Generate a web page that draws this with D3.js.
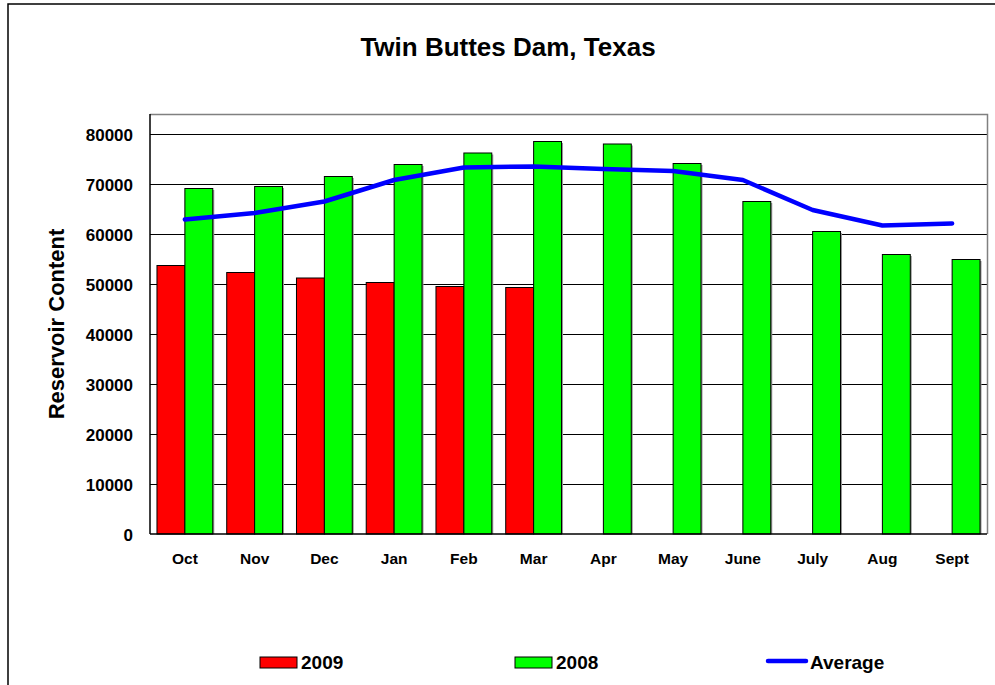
<!DOCTYPE html>
<html><head><meta charset="utf-8">
<script src="https://cdn.jsdelivr.net/npm/d3@7"></script>
<style>body{margin:0;background:#fff}svg{display:block;font-family:"Liberation Sans",Arial,sans-serif}</style>
</head><body><svg id="c" width="995" height="685"></svg>
<script>
const months = ["Oct","Nov","Dec","Jan","Feb","Mar","Apr","May","June","July","Aug","Sept"];
const values2009 = [53700,52300,51200,50300,49500,49300,null,null,null,null,null,null];
const values2008 = [69100,69500,71500,73900,76200,78500,78000,74100,66500,60500,55900,54900];
const valuesAvg = [62900,64200,66500,70800,73300,73500,73000,72600,70800,64800,61700,62100];
const yTicks = [0,10000,20000,30000,40000,50000,60000,70000,80000];
const title = "Twin Buttes Dam, Texas";
const yTitle = "Reservoir Content";

const svg = d3.select("#c");
const L=150, R=987, T=114, B=534;
svg.append("path").attr("d","M8,690 V4 H1000").attr("fill","none").attr("stroke","#000").attr("stroke-width",1.5);

const x = d3.scaleBand().domain(months).range([L,R]).paddingInner(0).paddingOuter(0);
const y = d3.scaleLinear().domain([0,84000]).range([B,T]);
const bw = x.bandwidth(), barW = bw*0.4, off = bw*0.1;

svg.append("g").selectAll("line").data(yTicks.filter(d=>d>0)).join("line")
  .attr("x1",L).attr("x2",R).attr("y1",d=>Math.round(y(d))+0.5).attr("y2",d=>Math.round(y(d))+0.5)
  .attr("stroke","#000").attr("stroke-width",1);
svg.append("path").attr("d",`M${L},${T+0.5} H${R+0.5} V${B}`).attr("fill","none").attr("stroke","#808080").attr("stroke-width",1.5);

function bars(data, dx, color){
  const g = svg.append("g");
  const d = months.map((m,i)=>({m, v:data[i]})).filter(e=>e.v!=null);
  g.selectAll("rect.sh").data(d).join("rect")
    .attr("x",e=>x(e.m)+dx+1.5).attr("y",e=>y(e.v)+1.5).attr("width",barW).attr("height",e=>B-y(e.v)-1.5)
    .attr("fill","#999");
  g.selectAll("rect.b").data(d).join("rect")
    .attr("x",e=>x(e.m)+dx).attr("y",e=>y(e.v)).attr("width",barW).attr("height",e=>B-y(e.v))
    .attr("fill",color).attr("stroke","#000").attr("stroke-width",1);
}
bars(values2009, off, "#ff0000");
bars(values2008, off+barW, "#00ff00");

const line = d3.line().x((d,i)=>x(months[i])+bw/2).y(d=>y(d)).curve(d3.curveLinear);
svg.append("path").datum(valuesAvg).attr("d",line).attr("fill","none").attr("stroke","#0000ff").attr("stroke-width",4.5).attr("stroke-linejoin","round").attr("stroke-linecap","round");

const ya = d3.axisLeft(y).tickValues(yTicks).tickSize(6).tickFormat(d3.format("d"));
const gy = svg.append("g").attr("transform",`translate(${L},0)`).call(ya);
gy.select(".domain").attr("stroke","#000").attr("stroke-width",1.5).attr("d",`M0,${T}V${B}`);
gy.selectAll(".tick line").remove();
gy.selectAll("text").attr("x",-17).attr("dy","0.36em").attr("font-size",17).attr("font-weight","bold").attr("fill","#000").attr("font-family","Liberation Sans, Arial, sans-serif");

const xa = d3.axisBottom(x).tickSize(0);
const gx = svg.append("g").attr("transform",`translate(0,${B})`).call(xa);
gx.select(".domain").attr("stroke","#000").attr("stroke-width",1.5).attr("d",`M${L},0H${R}`);
gx.selectAll("text").attr("y",19).attr("dy","0.71em").attr("font-size",15.5).attr("font-weight","bold").attr("fill","#000").attr("font-family","Liberation Sans, Arial, sans-serif");

svg.append("text").attr("x",508).attr("y",56).attr("text-anchor","middle").attr("font-size",26).attr("font-weight","bold").text(title);
svg.append("text").attr("transform","translate(64,324) rotate(-90)").attr("text-anchor","middle").attr("font-size",22).attr("font-weight","bold").text(yTitle);

const leg = svg.append("g").attr("font-size",19).attr("font-weight","bold");
leg.append("rect").attr("x",260).attr("y",657).attr("width",37).attr("height",11).attr("fill","#ff0000").attr("stroke","#000");
leg.append("text").attr("x",301).attr("y",669).text("2009");
leg.append("rect").attr("x",515).attr("y",657).attr("width",37).attr("height",11).attr("fill","#00ff00").attr("stroke","#000");
leg.append("text").attr("x",556).attr("y",669).text("2008");
leg.append("line").attr("x1",768).attr("x2",806).attr("y1",661).attr("y2",661).attr("stroke","#0000ff").attr("stroke-width",4.5).attr("stroke-linecap","round");
leg.append("text").attr("x",810).attr("y",669).text("Average");
</script></body></html>
